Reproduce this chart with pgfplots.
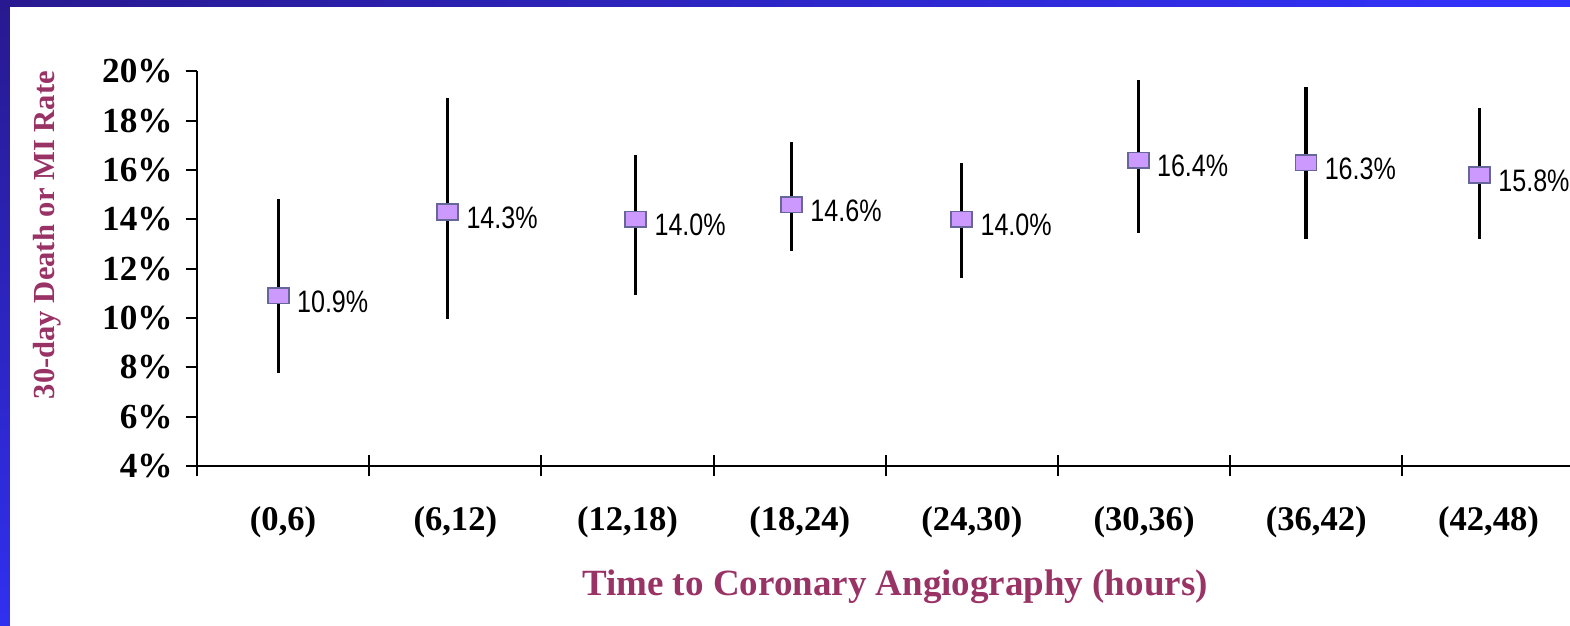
\documentclass[border=0pt]{standalone}
\usepackage{fontspec}
\setmainfont{Liberation Serif}
\newfontfamily\valuefont[FakeStretch=0.81]{Liberation Sans}
\usepackage{pgfplots}
\pgfplotsset{compat=1.18}
\usepackage{pgfplotstable}
\usetikzlibrary{shadings}

\definecolor{titlemaroon}{HTML}{993366}
\definecolor{markfill}{HTML}{CC99FF}
\definecolor{markedge}{HTML}{666699}
\definecolor{frameDark}{HTML}{28198F}
\definecolor{frameBright}{HTML}{3333FF}
\definecolor{frameLow}{HTML}{3030F0}

% event rate (%) with lower / upper confidence limits, per 6-hour window
\pgfplotstableread{
x     y     lo     hi
0.472 10.9  7.76   14.81
1.456 14.3  9.95   18.93
2.548 14.0  10.93  16.61
3.453 14.6  12.72  17.15
4.441 14.0  11.63  16.29
5.466 16.4  13.43  19.65
6.440 16.3  13.20  19.35
7.448 15.8  13.20  18.50
}\rates

\begin{document}
\begin{tikzpicture}
\useasboundingbox (0,0) rectangle (785pt,313pt);
\clip (0,0) rectangle (785pt,313pt);
% slide frame
\shade[upper left=frameDark, upper right=frameBright,
       lower left=frameLow, lower right=frameBright] (0,0) rectangle (785pt,313pt);
\fill[white] (5pt,0) rectangle (785pt,309.5pt);

% data, x axis and its interval labels
\begin{axis}[
  scale only axis, width=688.8pt, height=197.35pt,
  at={(98.5pt,80pt)}, anchor=south west,
  xmin=0, xmax=8, ymin=4, ymax=20,
  axis x line=bottom, axis y line=left,
  axis line style={-, line width=1pt, black},
  clip=false,
  xtick={0,...,8}, x tick label as interval,
  xticklabels={{(0,6)},{(6,12)},{(12,18)},{(18,24)},{(24,30)},{(30,36)},{(36,42)},{(42,48)}},
  tick align=center, major tick length=10.5pt,
  tick style={black, line width=1pt},
  ytick=\empty,
  xticklabel style={font=\fontsize{17.3}{20}\selectfont\bfseries, anchor=north, inner sep=0pt, yshift=-15pt},
  xlabel={Time to Coronary Angiography (hours)},
  xlabel style={at={(rel axis cs:0.5067,-0.3066)}, anchor=center,
    font=\fontsize{18.5}{22}\selectfont\bfseries, text=titlemaroon},
  point meta=y,
  nodes near coords={\pgfmathprintnumber[fixed,fixed zerofill,precision=1,assume math mode=true]{\pgfplotspointmeta}\%},
  every node near coord/.append style={font=\valuefont\fontsize{15.5}{18}\selectfont,
    anchor=west, inner sep=0pt, xshift=9pt, yshift=-3pt, text=black},
]
\addplot[only marks, mark=square*,
  mark size=3.9pt,
  mark options={xscale=1.35, fill=markfill, draw=markedge, line width=0.8pt},
  error bars/.cd, y dir=both, y explicit,
  error bar style={line width=1.7pt, black}, error mark=none]
  table[x=x, y=y,
        y error plus expr=\thisrow{hi}-\thisrow{y},
        y error minus expr=\thisrow{y}-\thisrow{lo}] {\rates};
\end{axis}

% y axis with outward ticks and its title
\begin{axis}[
  scale only axis, width=688.8pt, height=197.35pt,
  at={(98.5pt,80pt)}, anchor=south west,
  xmin=0, xmax=8, ymin=4, ymax=20,
  axis x line=none, axis y line=left,
  axis line style={-, line width=1pt, black},
  ytick={4,6,...,20},
  yticklabels={4\%,6\%,8\%,10\%,12\%,14\%,16\%,18\%,20\%},
  tick align=outside, major tick length=5.5pt,
  tick style={black, line width=1pt},
  yticklabel style={font=\fontsize{17.6}{20}\selectfont\bfseries, anchor=east, inner sep=0pt, xshift=-6.5pt},
  ylabel={30-day Death or MI Rate},
  ylabel style={at={(rel axis cs:-0.1085,0.585)}, anchor=center,
    font=\fontsize{15.3}{18}\selectfont\bfseries, text=titlemaroon},
]
\end{axis}
\end{tikzpicture}
\end{document}
